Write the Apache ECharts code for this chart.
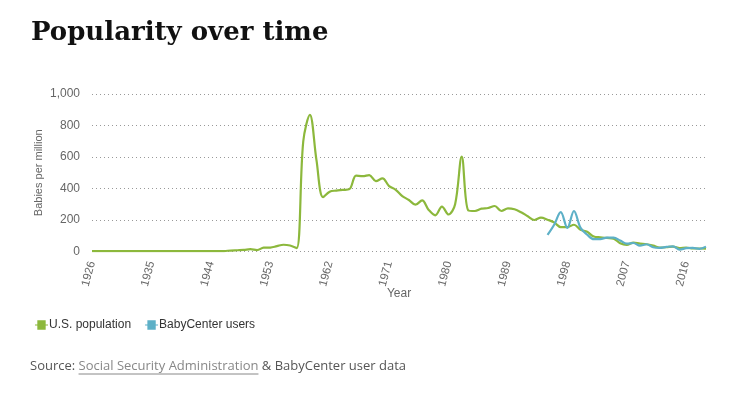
<!DOCTYPE html>
<html>
<head>
<meta charset="utf-8">
<script src="https://cdn.jsdelivr.net/npm/echarts@6/dist/echarts.min.js"></script>
<style>
html,body{margin:0;padding:0;background:#fff;}
#chart{width:745px;height:395px;}
</style>
</head>
<body>
<div id="chart"></div>
<script>
var years = ['1926','1927','1928','1929','1930','1931','1932','1933','1934','1935',
'1936','1937','1938','1939','1940','1941','1942','1943','1944','1945',
'1946','1947','1948','1949','1950','1951','1952','1953','1954','1955',
'1956','1957','1958','1959','1960','1961','1962','1963','1964','1965',
'1966','1967','1968','1969','1970','1971','1972','1973','1974','1975',
'1976','1977','1978','1979','1980','1981','1982','1983','1984','1985',
'1986','1987','1988','1989','1990','1991','1992','1993','1994','1995',
'1996','1997','1998','1999','2000','2001','2002','2003','2004','2005',
'2006','2007','2008','2009','2010','2011','2012','2013','2014','2015',
'2016','2017','2018','2019'];

var usPopulation = [2,2,2,2,2,2,2,2,2,2,
2,2,2,2,2,2,2,2,2,2,
3,6,8,10,15,9,24,25,34,43,
38,22,700,868,580,345,380,387,391,396,
482,478,485,447,464,415,392,352,327,297,
325,264,230,285,235,300,603,260,257,272,
276,289,257,274,268,249,224,200,215,202,
185,155,155,170,138,125,95,90,86,82,
52,42,56,50,46,37,25,27,31,21,
25,19,19,18];

var babyCenterYears = ['1995','1996','1997','1998','1999','2000','2001','2002','2003','2004',
'2005','2006','2007','2008','2009','2010','2011','2012','2013','2014',
'2015','2016','2017','2018','2019'];
var babyCenterUsers = [105,170,250,150,257,150,107,78,79,88,
88,70,50,54,37,46,27,23,29,33,
12,21,23,17,31];

var yTicks = [0,200,400,600,800,1000];

var seriesNames = ['U.S. population','BabyCenter users'];
var colors = ['#8cb83c','#5db0c7'];

var chart = echarts.init(document.getElementById('chart'));

function measure(txt, font){
  var c = document.createElement('canvas').getContext('2d');
  c.font = font; return c.measureText(txt).width;
}
var srcFont = '13px "Open Sans"';
var s1 = 'Source: ', s2 = 'Social Security Administration', s3 = ' & BabyCenter user data';
var w1 = measure(s1, srcFont), w2 = measure(s2, srcFont);
var srcX = 30, srcY = 366;

var legendIcon = 'path://M0,4.5h2.5v-4.5h9v4.5h2.5v1h-2.5v4.5h-9v-4.5h-2.5z';

chart.setOption({
  animation:false,
  color: colors,
  grid:{left:92,right:39,top:94,bottom:143.5},
  legend:{
    left:30, top:314, itemWidth:13, itemHeight:10, itemGap:14,
    icon: legendIcon,
    textStyle:{fontFamily:'Liberation Sans, Arial', fontSize:12, color:'#333', padding:[0,0,0,-4]},
    data: seriesNames
  },
  xAxis:{
    type:'category', data: years, boundaryGap:false,
    name:'Year', nameLocation:'middle', nameGap:36, nameMoveOverlap:false,
    nameTextStyle:{fontFamily:'Liberation Sans, Arial', fontSize:12, color:'#666'},
    axisLine:{show:false}, axisTick:{show:false},
    axisLabel:{interval:8, rotate:75, fontFamily:'Liberation Sans, Arial', fontSize:11.5, color:'#666', margin:10}
  },
  yAxis:{
    type:'value', min:yTicks[0], max:yTicks[yTicks.length-1], interval:200,
    name:'Babies per million', nameLocation:'middle', nameGap:48, nameMoveOverlap:false,
    nameTextStyle:{fontFamily:'Liberation Sans, Arial', fontSize:11, color:'#666'},
    axisLine:{show:false}, axisTick:{show:false},
    axisLabel:{fontFamily:'Liberation Sans, Arial', fontSize:12, color:'#666', margin:12,
      formatter:function(v){return v.toLocaleString('en-US');}},
    splitLine:{lineStyle:{type:[1,3], color:'#999', width:1}}
  },
  series:[
    {name:seriesNames[0], type:'line', data:usPopulation, smooth:0.35, showSymbol:false,
     lineStyle:{width:2.2, color:colors[0]}, itemStyle:{color:colors[0]}},
    {name:seriesNames[1], type:'line', data:babyCenterYears.map(function(y,i){return [y, babyCenterUsers[i]];}),
     smooth:0.35, showSymbol:false, lineStyle:{width:2.2, color:colors[1]}, itemStyle:{color:colors[1]}}
  ],
  graphic:[
    {type:'text', left:31, top:20, style:{text:'Popularity over time', font:'bold 26px "DejaVu Serif"', fill:'#111'}},
    {type:'text', x:srcX, y:srcY, style:{text:s1, font:srcFont, fill:'#555', textVerticalAlign:'middle'}},
    {type:'text', x:srcX+w1, y:srcY, style:{text:s2, font:srcFont, fill:'#888', textVerticalAlign:'middle'}},
    {type:'line', shape:{x1:srcX+w1, y1:srcY+8, x2:srcX+w1+w2, y2:srcY+8}, style:{stroke:'#888', lineWidth:1}},
    {type:'text', x:srcX+w1+w2, y:srcY, style:{text:s3, font:srcFont, fill:'#555', textVerticalAlign:'middle'}}
  ]
});
</script>
</body>
</html>
